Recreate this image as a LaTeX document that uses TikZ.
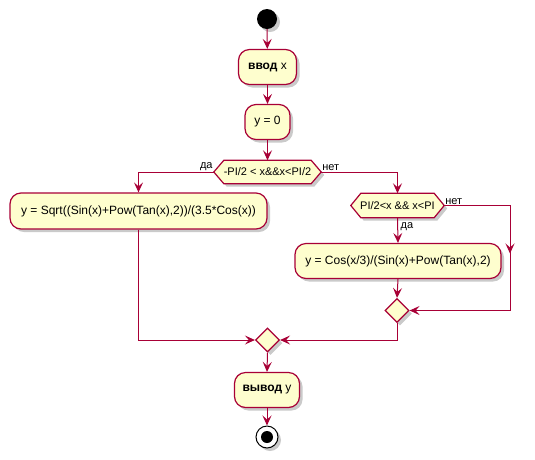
\documentclass[tikz,border=0pt]{standalone}
\usepackage{fontspec}
\setmainfont{Liberation Sans}
\usetikzlibrary{arrows.meta,shapes.geometric,shadows,calc}
\definecolor{umlborder}{HTML}{A80036}
\definecolor{umlfill}{HTML}{FEFECE}
\tikzset{
  umlshadow/.style={drop shadow={shadow xshift=3pt,shadow yshift=-3pt,opacity=0.35,fill=black!60}},
  actbox/.style={draw=umlborder,fill=umlfill,line width=1.2pt,rounded corners=11pt,
    inner sep=0pt,minimum height=35pt,align=center,umlshadow,font=\fontsize{12}{14}\selectfont},
  hexlabel/.style={inner sep=0pt,font=\fontsize{11}{13}\selectfont},
  merge/.style={shape=diamond,draw=umlborder,fill=umlfill,line width=1.2pt,
    minimum width=24pt,minimum height=24pt,inner sep=0pt,umlshadow},
  flow/.style={draw=umlborder,line width=1pt,-{Stealth[length=10pt,width=9pt,inset=4pt]}},
  guard/.style={inner sep=0pt,font=\fontsize{11}{13}\selectfont},
}
\begin{document}
\begin{tikzpicture}[x=1pt,y=-1pt]
\useasboundingbox (0,0) rectangle (535,459);
% start
\node[circle,fill=black,minimum size=20pt,inner sep=0pt,umlshadow] (start) at (267,19) {};
% boxes
\node[actbox,minimum width=58pt] (in) at (267.5,67) {\textbf{ввод} x};
\node[actbox,minimum width=45pt] (y0) at (267.5,122) {y = 0};
% decision 1
\node[hexlabel,minimum width=107pt,minimum height=23pt] (d1) at (267.5,172) {};
\path[draw=umlborder,fill=umlfill,line width=1.2pt,umlshadow]
  (d1.west) -- ($(d1.north west)+(10,0)$) -- ($(d1.north east)+(-10,0)$) -- (d1.east)
  -- ($(d1.south east)+(-10,0)$) -- ($(d1.south west)+(10,0)$) -- cycle;
\node[hexlabel] at (d1) {-PI/2 < x\&\&x<PI/2};
% left branch
\node[actbox,minimum width=257pt,minimum height=36pt] (b1) at (138.5,211) {y = Sqrt((Sin(x)+Pow(Tan(x),2))/(3.5*Cos(x))};
% decision 2
\node[hexlabel,minimum width=93pt,minimum height=24pt] (d2) at (397.5,205.5) {};
\path[draw=umlborder,fill=umlfill,line width=1.2pt,umlshadow]
  (d2.west) -- ($(d2.north west)+(10,0)$) -- ($(d2.north east)+(-10,0)$) -- (d2.east)
  -- ($(d2.south east)+(-10,0)$) -- ($(d2.south west)+(10,0)$) -- cycle;
\node[hexlabel] at (d2) {PI/2<x \&\& x<PI};
\node[actbox,minimum width=206pt] (b2) at (398,261) {y = Cos(x/3)/(Sin(x)+Pow(Tan(x),2)};
\node[merge] (m2) at (397,310.5) {};
\node[merge] (m3) at (267.5,340) {};
\node[actbox,minimum width=65pt] (out) at (267,390) {\textbf{вывод} y};
% end
\node[circle,draw=black,fill=white,line width=1pt,minimum size=22pt,inner sep=0pt,umlshadow] (end) at (267,437) {};
\node[circle,fill=black,minimum size=12pt,inner sep=0pt] (endin) at (end) {};
% connectors
\draw[flow] (start) -- (in);
\draw[flow] (in) -- (y0);
\draw[flow] (y0) -- (d1.north -| y0);
\draw[flow] (d1.west) -| (b1.north);
\draw[flow] (d1.east) -| (d2.north);
\draw[flow] (d2.south) -- (b2.north);
\draw[flow] (b2.south) -- (m2.north);
\coordinate (rc) at (510,205.5);
\draw[flow] (d2.east) -- (rc) |- (m2.east);
\draw[flow] (rc) -- ($(rc)+(0,48)$);
\draw[flow] (m2.south) |- (m3.east);
\draw[flow] (b1.south) |- (m3.west);
\draw[flow] (m3.south) -- (out.north);
\draw[flow] (out.south) -- (end.north);
% guards
\node[guard,anchor=south east] (g1) at ($(d1.west)+(-1,-1)$) {да};
\node[guard,anchor=south west] (g2) at ($(d1.east)+(1,-1)$) {нет};
\node[guard,anchor=south west] (g3) at ($(d2.east)+(1,-1)$) {нет};
\node[guard,anchor=north west] (g4) at ($(d2.south)+(3,5)$) {да};
\end{tikzpicture}
\end{document}
